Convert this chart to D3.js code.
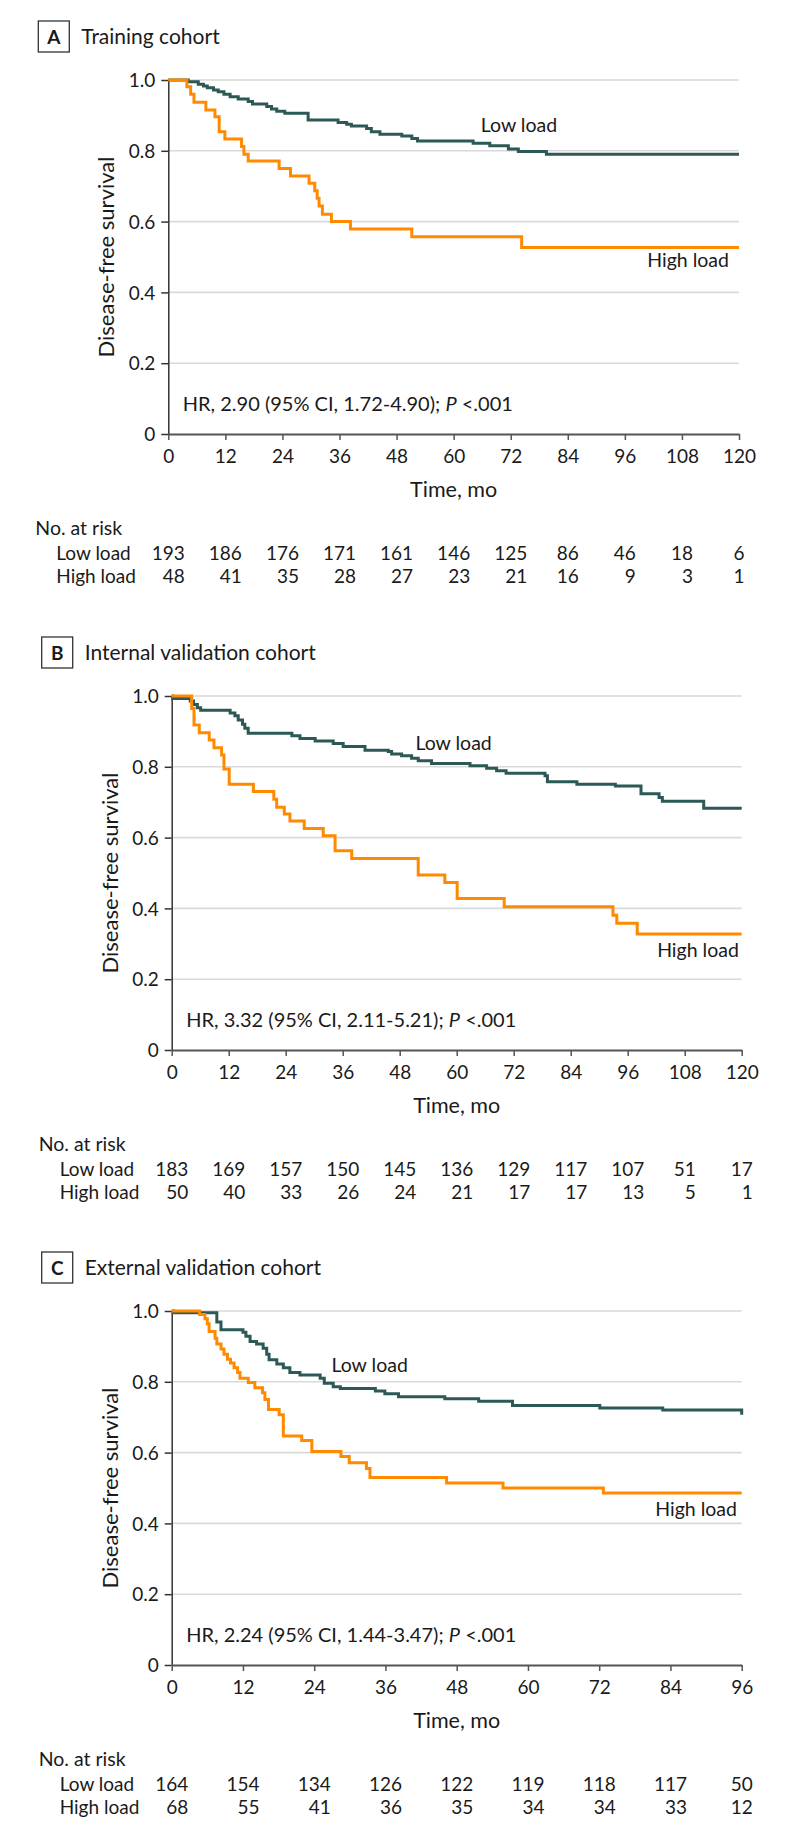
<!DOCTYPE html>
<html>
<head>
<meta charset="utf-8">
<script src="https://cdn.jsdelivr.net/npm/d3@7"></script>
<style>
  body { margin: 0; background: #fff; }
  svg text { font-family: Lato, "Open Sans", sans-serif; fill: #1a1a1a; }
</style>
</head>
<body>
<script>
// ---- data ----
const cohortTitles = ["Training cohort", "Internal validation cohort", "External validation cohort"];
const panelLetters = ["A", "B", "C"];
const hrTexts = [
  "HR, 2.90 (95% CI, 1.72-4.90); ",
  "HR, 3.32 (95% CI, 2.11-5.21); ",
  "HR, 2.24 (95% CI, 1.44-3.47); "
];
const groupNames = ["Low load", "High load"];
const yTicks = [0, 0.2, 0.4, 0.6, 0.8, 1.0];
const timeTicks120 = [0, 12, 24, 36, 48, 60, 72, 84, 96, 108, 120];
const timeTicks96 = [0, 12, 24, 36, 48, 60, 72, 84, 96];

// [month, survival] step points
const trainingLow = [[0,1],[4.2,0.995],[6.3,0.988],[7.4,0.983],[8.2,0.978],[9.5,0.972],[10.5,0.967],[11.7,0.960],
  [13.0,0.953],[14.7,0.946],[16.8,0.939],[17.7,0.932],[20.7,0.925],[21.7,0.918],[22.8,0.912],[24.5,0.906],
  [29.4,0.887],[35.7,0.880],[37.5,0.875],[38.5,0.870],[41.7,0.863],[42.7,0.854],[44.5,0.847],[49.1,0.842],
  [51.2,0.835],[52.4,0.828],[64.1,0.821],[67.6,0.814],[71.5,0.805],[73.6,0.798],[79.5,0.790],[120,0.790]];
const trainingHigh = [[0,1],[3.9,0.981],[4.7,0.960],[5.4,0.937],[7.9,0.915],[9.8,0.896],[10.7,0.854],[11.9,0.833],
  [15.4,0.812],[15.9,0.790],[16.8,0.771],[23.3,0.750],[25.7,0.729],[29.6,0.708],[30.8,0.687],[31.3,0.666],
  [31.7,0.644],[32.4,0.621],[34.3,0.600],[38.3,0.579],[51.2,0.557],[74.3,0.527],[120,0.527]];

const internalLow = [[0,1],[0.2,0.993],[3.9,0.986],[4.6,0.976],[5.4,0.967],[6.1,0.960],[12.3,0.952],[13.3,0.944],
  [14.0,0.932],[14.9,0.920],[15.4,0.909],[16.1,0.895],[25.3,0.888],[27.0,0.880],[30.2,0.873],[34.0,0.866],
  [36.1,0.857],[40.7,0.847],[45.6,0.843],[46.3,0.836],[48.4,0.831],[50.5,0.824],[51.9,0.817],[54.7,0.809],
  [62.8,0.803],[66.3,0.796],[68.4,0.789],[70.4,0.782],[78.6,0.775],[79.1,0.758],[85.3,0.751],[93.4,0.746],
  [98.8,0.724],[102.6,0.713],[103.3,0.703],[112.0,0.683],[120,0.683]];
const internalHigh = [[0,1],[4.2,0.965],[4.7,0.918],[5.8,0.896],[7.9,0.876],[8.9,0.854],[10.5,0.833],[11.0,0.794],
  [12.1,0.751],[17.2,0.730],[21.5,0.708],[22.1,0.686],[23.7,0.667],[24.9,0.647],[27.9,0.626],[31.9,0.605],
  [34.4,0.563],[37.9,0.541],[51.9,0.494],[57.5,0.473],[60.1,0.428],[70.0,0.405],[92.9,0.381],[93.7,0.358],
  [98.0,0.328],[120,0.328]];

const externalLow = [[0,1],[0.3,0.995],[7.6,0.969],[8.3,0.947],[12.0,0.940],[12.5,0.929],[13.2,0.914],[14.3,0.907],
  [15.4,0.895],[16.0,0.878],[16.4,0.862],[17.7,0.850],[18.8,0.840],[19.9,0.826],[21.6,0.819],[25.0,0.810],
  [25.7,0.796],[27.2,0.786],[28.4,0.781],[34.3,0.774],[35.9,0.766],[38.2,0.758],[46.0,0.752],[51.7,0.745],
  [57.4,0.733],[72.1,0.726],[82.7,0.720],[96,0.707]];
const externalHigh = [[0,1],[4.7,0.990],[5.6,0.978],[6.0,0.964],[6.3,0.942],[7.3,0.923],[7.6,0.907],[8.3,0.893],
  [8.8,0.878],[9.4,0.864],[9.9,0.853],[10.5,0.840],[11.1,0.826],[11.5,0.810],[12.9,0.798],[14.0,0.783],
  [15.3,0.769],[15.7,0.750],[16.3,0.722],[18.1,0.707],[18.8,0.647],[21.9,0.634],[23.6,0.603],[28.5,0.589],
  [29.9,0.571],[32.8,0.555],[33.4,0.530],[46.3,0.514],[55.8,0.500],[72.7,0.486],[96,0.486]];

// numbers at risk
const trainingRiskLow = [193, 186, 176, 171, 161, 146, 125, 86, 46, 18, 6];
const trainingRiskHigh = [48, 41, 35, 28, 27, 23, 21, 16, 9, 3, 1];
const internalRiskLow = [183, 169, 157, 150, 145, 136, 129, 117, 107, 51, 17];
const internalRiskHigh = [50, 40, 33, 26, 24, 21, 17, 17, 13, 5, 1];
const externalRiskLow = [164, 154, 134, 126, 122, 119, 118, 117, 50];
const externalRiskHigh = [68, 55, 41, 36, 35, 34, 34, 33, 12];

// ---- layout ----
const width = 794, height = 1839;
const plotH = 354;
const colLow = "#2c5956", colHigh = "#ff8a00";
const fs = 19;

const panels = [
  { top: 80, left: 168.3, right: 739, xMax: 120, ticks: timeTicks120,
    low: trainingLow, high: trainingHigh, riskLow: trainingRiskLow, riskHigh: trainingRiskHigh,
    lowLab: [65.7, 0.853, "start"], highLab: [117.9, 0.472, "end"] },
  { top: 696, left: 171.7, right: 741.7, xMax: 120, ticks: timeTicks120,
    low: internalLow, high: internalHigh, riskLow: internalRiskLow, riskHigh: internalRiskHigh,
    lowLab: [51.3, 0.847, "start"], highLab: [119.4, 0.262, "end"] },
  { top: 1311, left: 171.7, right: 741.7, xMax: 96, ticks: timeTicks96,
    low: externalLow, high: externalHigh, riskLow: externalRiskLow, riskHigh: externalRiskHigh,
    lowLab: [26.9, 0.827, "start"], highLab: [95.2, 0.42, "end"] }
];

const svg = d3.select("body").append("svg")
  .attr("width", width)
  .attr("height", height);

panels.forEach((p, i) => drawPanel(p, i));

function drawPanel(p, i) {
  const bottom = p.top + plotH;
  const x = d3.scaleLinear().domain([0, p.xMax]).range([p.left, p.right]);
  const y = d3.scaleLinear().domain([0, 1]).range([bottom, p.top]);
  const g = svg.append("g");

  // panel letter box + title
  g.append("rect")
    .attr("x", p.left - 130).attr("y", p.top - 59)
    .attr("width", 31).attr("height", 31)
    .attr("fill", "none").attr("stroke", "#333").attr("stroke-width", 1.3);
  g.append("text")
    .attr("x", p.left - 114.5).attr("y", p.top - 36.5)
    .attr("text-anchor", "middle")
    .attr("font-size", 19).attr("font-weight", "bold")
    .text(panelLetters[i]);
  g.append("text")
    .attr("x", p.left - 87).attr("y", p.top - 36)
    .attr("font-size", 21)
    .text(cohortTitles[i]);

  // grid
  g.append("g").selectAll("line")
    .data(yTicks.slice(1))
    .join("line")
    .attr("x1", p.left).attr("x2", p.right)
    .attr("y1", d => y(d)).attr("y2", d => y(d))
    .attr("stroke", "#d9d9d9").attr("stroke-width", 1.6);

  // y axis
  const yAx = g.append("g")
    .attr("transform", `translate(${p.left},0)`)
    .call(d3.axisLeft(y).tickValues(yTicks).tickSize(7).tickSizeOuter(0).tickPadding(6)
      .tickFormat(d => d === 0 ? "0" : d3.format(".1f")(d)));
  yAx.attr("font-family", null).attr("font-size", null);
  yAx.select(".domain").attr("stroke", "#333").attr("stroke-width", 1.5);
  yAx.selectAll(".tick line").attr("stroke", "#333").attr("stroke-width", 1.5);
  yAx.selectAll(".tick text").attr("font-size", fs).attr("dy", "0.35em");

  // x axis
  const xAx = g.append("g")
    .attr("transform", `translate(0,${bottom})`)
    .call(d3.axisBottom(x).tickValues(p.ticks).tickSize(6).tickSizeOuter(0));
  xAx.attr("font-family", null).attr("font-size", null);
  xAx.select(".domain").attr("stroke", "#555").attr("stroke-width", 2.2);
  xAx.selectAll(".tick line").attr("stroke", "#555").attr("stroke-width", 1.5);
  xAx.selectAll(".tick text").attr("font-size", fs).attr("y", 29).attr("dy", 0);

  g.append("text")
    .attr("x", (p.left + p.right) / 2).attr("y", bottom + 63)
    .attr("text-anchor", "middle").attr("font-size", 21.5)
    .text("Time, mo");

  g.append("text")
    .attr("transform", `translate(${p.left - 54},${(p.top + bottom) / 2}) rotate(-90)`)
    .attr("text-anchor", "middle").attr("font-size", 22)
    .text("Disease-free survival");

  // curves
  const line = d3.line()
    .x(d => x(d[0]))
    .y(d => y(d[1]))
    .curve(d3.curveStepAfter);
  [[p.low, colLow], [p.high, colHigh]].forEach(([pts, col]) => {
    g.append("path")
      .datum(pts)
      .attr("d", line)
      .attr("fill", "none")
      .attr("stroke", col)
      .attr("stroke-width", 3);
  });

  // curve labels
  [[p.lowLab, groupNames[0]], [p.highLab, groupNames[1]]].forEach(([lab, name]) => {
    g.append("text")
      .attr("x", x(lab[0])).attr("y", y(lab[1]))
      .attr("text-anchor", lab[2]).attr("font-size", 19.5)
      .text(name);
  });

  // hazard ratio
  const hr = g.append("text")
    .attr("x", p.left + 14.5).attr("y", bottom - 23)
    .attr("font-size", 20);
  hr.append("tspan").text(hrTexts[i]);
  hr.append("tspan").attr("font-style", "italic").text("P");
  hr.append("tspan").text(" <.001");

  // number at risk table
  g.append("text")
    .attr("x", p.left - 133).attr("y", bottom + 101)
    .attr("font-size", 19.5)
    .text("No. at risk");
  const rows = [p.riskLow, p.riskHigh];
  const cells = rows.map((vals, r) => {
    g.append("text")
      .attr("x", p.left - 112).attr("y", bottom + 126 + r * 23)
      .attr("font-size", fs)
      .text(groupNames[r]);
    return vals.map(v => g.append("text")
      .attr("y", bottom + 126 + r * 23)
      .attr("font-size", fs)
      .attr("text-anchor", "end")
      .text(v));
  });
  p.ticks.forEach((t, c) => {
    const w = Math.max(cells[0][c].node().getComputedTextLength(),
                       cells[1][c].node().getComputedTextLength());
    cells[0][c].attr("x", x(t) + w / 2);
    cells[1][c].attr("x", x(t) + w / 2);
  });
}
</script>
</body>
</html>
